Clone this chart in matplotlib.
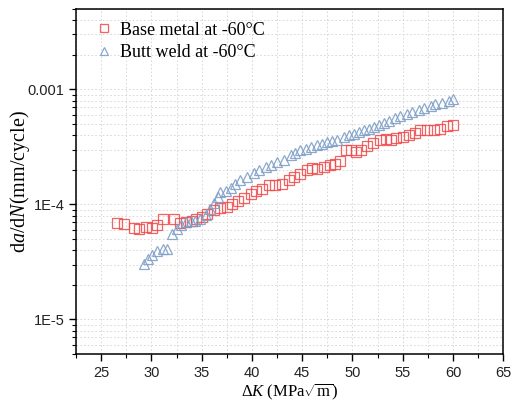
import matplotlib
matplotlib.use('Agg')
from matplotlib import pyplot as plt
from matplotlib import ticker
import numpy as np

plt.rcParams['mathtext.fontset'] = 'custom'
plt.rcParams['mathtext.rm'] = 'Liberation Serif'
plt.rcParams['mathtext.it'] = 'Liberation Serif:italic'

# base metal at -60C (red squares)
base_k = [26.59, 27.25, 28.24, 28.74, 29.41, 30.07, 30.57, 31.17, 32.22, 32.89,
          33.39, 33.99, 34.48, 35.05, 35.55, 36.20, 36.87, 37.47, 38.03, 38.59,
          39.19, 39.86, 40.45, 41.02, 41.68, 42.34, 43.01, 43.67, 44.16, 44.76,
          45.50, 46.00, 46.49, 47.15, 47.75, 48.31, 48.81, 49.31, 49.88, 50.40,
          50.87, 51.47, 52.06, 52.72, 53.29, 53.86, 54.38, 55.05, 55.61, 56.27,
          56.77, 57.44, 58.09, 58.76, 59.43, 60.00]
base_rate = [6.88e-5, 6.80e-5, 6.22e-5, 6.15e-5, 6.35e-5, 6.27e-5, 6.57e-5, 7.41e-5, 7.51e-5, 6.88e-5,
             7.02e-5, 7.16e-5, 7.41e-5, 7.71e-5, 8.19e-5, 8.87e-5, 9.36e-5, 9.47e-5, 1.01e-4, 1.08e-4,
             1.13e-4, 1.24e-4, 1.30e-4, 1.37e-4, 1.48e-4, 1.48e-4, 1.51e-4, 1.62e-4, 1.73e-4, 1.85e-4,
             2.00e-4, 2.09e-4, 2.02e-4, 2.11e-4, 2.18e-4, 2.26e-4, 2.38e-4, 2.99e-4, 2.99e-4, 2.85e-4,
             2.99e-4, 3.19e-4, 3.41e-4, 3.65e-4, 3.73e-4, 3.65e-4, 3.77e-4, 3.85e-4, 3.98e-4, 4.17e-4,
             4.40e-4, 4.40e-4, 4.46e-4, 4.55e-4, 4.77e-4, 4.91e-4]

# butt weld at -60C (blue triangles)
weld_k = [29.24, 29.66, 30.10, 30.60, 31.10, 31.57, 32.06, 32.56, 32.99, 33.39,
          33.89, 34.38, 34.88, 35.38, 35.78, 36.18, 36.58, 36.87, 37.37, 37.87,
          38.36, 38.86, 39.53, 40.18, 40.68, 41.35, 41.85, 42.51, 43.17, 43.84,
          44.33, 44.83, 45.33, 45.83, 46.49, 46.99, 47.49, 47.99, 48.48, 49.14,
          49.64, 50.13, 50.63, 51.13, 51.63, 52.12, 52.62, 53.12, 53.62, 54.28,
          54.78, 55.45, 55.95, 56.60, 57.10, 57.77, 58.26, 58.93, 59.59, 60.00]
weld_rate = [3.05e-5, 3.36e-5, 3.64e-5, 3.90e-5, 4.06e-5, 4.12e-5, 5.56e-5, 6.06e-5, 6.57e-5, 6.97e-5,
             7.11e-5, 7.19e-5, 7.41e-5, 8.02e-5, 9.05e-5, 1.02e-4, 1.15e-4, 1.28e-4, 1.32e-4, 1.40e-4,
             1.51e-4, 1.62e-4, 1.73e-4, 1.87e-4, 1.98e-4, 2.11e-4, 2.18e-4, 2.33e-4, 2.45e-4, 2.67e-4,
             2.80e-4, 2.95e-4, 3.05e-4, 3.15e-4, 3.26e-4, 3.37e-4, 3.48e-4, 3.53e-4, 3.65e-4, 3.85e-4,
             3.98e-4, 4.12e-4, 4.25e-4, 4.40e-4, 4.55e-4, 4.70e-4, 4.86e-4, 5.11e-4, 5.34e-4, 5.62e-4,
             5.88e-4, 6.15e-4, 6.35e-4, 6.57e-4, 6.93e-4, 7.12e-4, 7.41e-4, 7.60e-4, 7.91e-4, 8.19e-4]

x_ticks = [25, 30, 35, 40, 45, 50, 55, 60, 65]
y_ticks = [1e-5, 1e-4, 1e-3]
y_labels = ['1E-5', '1E-4', '0.001']

fig = plt.figure(figsize=(5.14, 4.07), dpi=100)
ax = fig.add_axes([0.148, 0.130, 0.831, 0.848])

ax.plot(base_k, base_rate, ls='none', marker='s', ms=6.5, mfc='none',
        mec='#f04848', mew=0.9, alpha=0.85, label='Base metal at -60\u00b0C')
ax.plot(weld_k, weld_rate, ls='none', marker='^', ms=7.5, mfc='none',
        mec='#7f9fc8', mew=0.9, alpha=0.9, label='Butt weld at -60\u00b0C')

ax.set_yscale('log')
ax.set_xlim(22.5, 65)
ax.set_ylim(5e-6, 5e-3)

ax.set_xticks(x_ticks)
ax.xaxis.set_minor_locator(ticker.MultipleLocator(2.5))
ax.set_yticks(y_ticks)
ax.set_yticklabels(y_labels)
ax.yaxis.set_minor_locator(ticker.LogLocator(base=10, subs=np.arange(2, 10)))
ax.yaxis.set_minor_formatter(ticker.NullFormatter())

ax.grid(True, which='both', ls=(0, (2, 2.5)), color='#d4d4d4', lw=0.6)
ax.set_axisbelow(True)

ax.tick_params(which='major', direction='out', length=5, width=1,
               labelsize=10.5, labelcolor='#222222', top=False, right=False,
               labelfontfamily='Liberation Sans')
ax.tick_params(which='minor', direction='out', length=3, width=0.8, top=False, right=False)
for s in ax.spines.values():
    s.set_linewidth(1.1)

ax.set_xlabel(r'$\Delta K$ (MPa$\sqrt{\mathrm{m}}$)', fontsize=12,
              family='Liberation Serif', labelpad=1)
ax.set_ylabel(r'd$a$/d$N$(mm/cycle)', fontsize=14.5, family='Liberation Serif', labelpad=-3)

ax.legend(loc='upper left', frameon=False, prop={'family': 'Liberation Serif', 'size': 13},
          handletextpad=0.3, handlelength=1.2, markerscale=0.85, borderaxespad=0.3,
          bbox_to_anchor=(0.01, 1.0), labelspacing=0.3)

fig.savefig('out.png', dpi=100)
